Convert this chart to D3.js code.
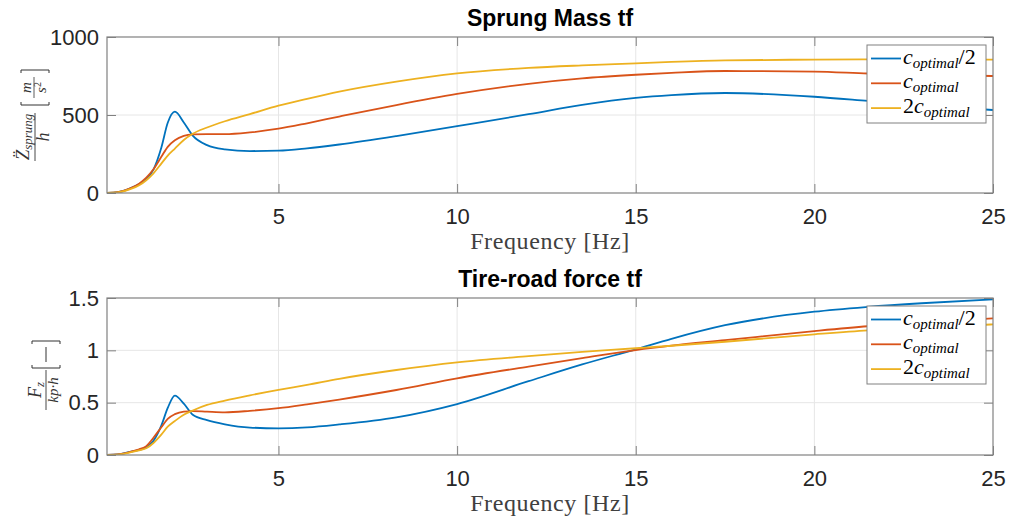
<!DOCTYPE html>
<html>
<head>
<meta charset="utf-8">
<script src="https://cdn.jsdelivr.net/npm/d3@7"></script>
<style>
  html, body { margin: 0; padding: 0; background: #fff; }
  svg { display: block; }
</style>
</head>
<body>
<svg id="chart" width="1010" height="523"></svg>
<script>
// Frequency grid shared by all curves [Hz]
const freq = [0.2, 0.5, 0.85, 1.1, 1.3, 1.5, 1.72, 1.9, 2.1, 2.35, 2.6, 3.0, 3.5, 4.2, 5.0, 5.8, 6.7, 8.3, 10, 12, 13.5, 15, 16, 17.5, 20, 21.5, 23, 25];

// Sprung mass acceleration transfer function |Z''/h|
const sprungHalf = [0, 5, 30, 58, 90, 150, 290, 450, 521, 452, 368, 307, 280, 269, 271, 286, 311, 365, 429, 505, 565, 610, 628, 641, 617, 590, 562, 532];
const sprungOpt  = [0, 5, 30, 60, 98, 152, 232, 296, 338, 366, 376, 378, 377, 388, 412, 447, 490, 564, 635, 700, 735, 758, 770, 782, 778, 766, 758, 750];
const sprungTwo  = [0, 4, 25, 50, 82, 126, 188, 240, 285, 340, 380, 420, 460, 506, 560, 604, 650, 714, 767, 802, 818, 831, 840, 850, 855, 856, 856, 855];

// Tire-road force transfer function |Fz/(kp h)|
const tireHalf = [0, 0.005, 0.03, 0.05, 0.072, 0.135, 0.28, 0.45, 0.567, 0.49, 0.385, 0.333, 0.293, 0.262, 0.255, 0.264, 0.292, 0.36, 0.487, 0.705, 0.865, 1.01, 1.11, 1.24, 1.369, 1.415, 1.45, 1.487];
const tireOpt  = [0, 0.005, 0.03, 0.055, 0.085, 0.165, 0.265, 0.345, 0.39, 0.415, 0.42, 0.414, 0.408, 0.422, 0.447, 0.484, 0.53, 0.621, 0.733, 0.845, 0.925, 1.003, 1.045, 1.097, 1.184, 1.23, 1.265, 1.306];
const tireTwo  = [0, 0.004, 0.025, 0.045, 0.064, 0.115, 0.195, 0.27, 0.325, 0.385, 0.425, 0.478, 0.52, 0.57, 0.622, 0.67, 0.728, 0.812, 0.885, 0.945, 0.985, 1.02, 1.044, 1.082, 1.153, 1.19, 1.215, 1.248];

const xTicks = [5, 10, 15, 20, 25];
const sprungTicks = [0, 500, 1000];
const tireTicks = [0, 0.5, 1, 1.5];
const tireTickLabels = ["0", "0.5", "1", "1.5"];

const colors = ["#0072BD", "#D95319", "#EDB120"];
const legendItems = [
  { base: "c", sub: "optimal", suffix: "/2", prefix: "" },
  { base: "c", sub: "optimal", suffix: "", prefix: "" },
  { base: "c", sub: "optimal", suffix: "", prefix: "2" }
];

const svg = d3.select("#chart");
const axisColor = "#808080";
const textColor = "#262626";
const gridColor = "#e6e6e6";
const mathFont = "'Liberation Serif', 'DejaVu Serif', serif";
const sansFont = "'Liberation Sans', Arial, Helvetica, sans-serif";

const left = 107, right = 993;

function drawPanel(opts) {
  const { top, bottom, yDomain, yTicks, yFormat, series, title, legendTop } = opts;
  const x = d3.scaleLinear().domain([0.2, 25]).range([left, right]);
  const y = d3.scaleLinear().domain(yDomain).range([bottom, top]);
  const g = svg.append("g");

  // grid
  g.append("g").selectAll("line").data(xTicks.filter(t => t < 25)).join("line")
    .attr("x1", d => x(d)).attr("x2", d => x(d))
    .attr("y1", top).attr("y2", bottom)
    .attr("stroke", gridColor).attr("stroke-width", 1);
  g.append("g").selectAll("line").data(yTicks.filter(t => t > yDomain[0] && t < yDomain[1])).join("line")
    .attr("x1", left).attr("x2", right)
    .attr("y1", d => y(d)).attr("y2", d => y(d))
    .attr("stroke", gridColor).attr("stroke-width", 1);

  // curves
  const clipId = "clip" + Math.round(top);
  svg.append("clipPath").attr("id", clipId).append("rect")
    .attr("x", left).attr("y", top - 2).attr("width", right - left).attr("height", bottom - top + 2);
  const line = d3.line()
    .x((d, i) => x(freq[i]))
    .y(d => y(d))
    .curve(d3.curveMonotoneX);
  g.append("g").attr("clip-path", `url(#${clipId})`)
    .selectAll("path").data(series).join("path")
    .attr("d", d => line(d))
    .attr("fill", "none")
    .attr("stroke", (d, i) => colors[i])
    .attr("stroke-width", 1.8)
    .attr("stroke-linejoin", "round");

  // axes with inward ticks
  const styleAxis = sel => {
    sel.select(".domain").remove();
    sel.selectAll(".tick line").attr("stroke", axisColor).attr("stroke-width", 1);
    sel.selectAll(".tick text").attr("fill", textColor)
      .style("font-family", sansFont).style("font-size", "22px");
  };
  g.append("g").attr("transform", `translate(0,${bottom})`)
    .call(d3.axisBottom(x).tickValues(xTicks).tickSizeInner(-9).tickSizeOuter(0).tickPadding(15).tickFormat(d3.format("d")))
    .call(styleAxis);
  g.append("g").attr("transform", `translate(0,${top})`)
    .call(d3.axisTop(x).tickValues(xTicks).tickSizeInner(-9).tickSizeOuter(0).tickFormat(""))
    .call(styleAxis);
  g.append("g").attr("transform", `translate(${left},0)`)
    .call(d3.axisLeft(y).tickValues(yTicks).tickSizeInner(-9).tickSizeOuter(0).tickPadding(8).tickFormat(yFormat))
    .call(styleAxis);
  g.append("g").attr("transform", `translate(${right},0)`)
    .call(d3.axisRight(y).tickValues(yTicks).tickSizeInner(-9).tickSizeOuter(0).tickFormat(""))
    .call(styleAxis);

  // axes box
  g.append("rect").attr("x", left).attr("y", top)
    .attr("width", right - left).attr("height", bottom - top)
    .attr("fill", "none").attr("stroke", axisColor).attr("stroke-width", 1.2);

  // title
  g.append("text").attr("x", (left + right) / 2).attr("y", top - 11)
    .attr("text-anchor", "middle")
    .style("font-family", sansFont).style("font-size", "23px").style("font-weight", "bold")
    .attr("fill", "#000").text(title);

  // x label
  g.append("text").attr("x", (left + right) / 2).attr("y", bottom + 56)
    .attr("text-anchor", "middle")
    .style("font-family", mathFont).style("font-size", "24px").style("letter-spacing", "0.6px")
    .attr("fill", "#404040").text("Frequency [Hz]");

  // legend
  const lx = 867, lw = 119, lh = 78;
  const lg = g.append("g");
  lg.append("rect").attr("x", lx).attr("y", legendTop).attr("width", lw).attr("height", lh)
    .attr("fill", "#fff").attr("stroke", axisColor).attr("stroke-width", 1);
  legendItems.forEach((it, i) => {
    const ly = legendTop + 13.5 + i * 24.8;
    lg.append("line").attr("x1", lx + 4).attr("x2", lx + 34).attr("y1", ly).attr("y2", ly)
      .attr("stroke", colors[i]).attr("stroke-width", 1.8);
    const t = lg.append("text").attr("x", lx + 36).attr("y", ly + 5)
      .style("font-family", mathFont).style("font-size", "22px").attr("fill", "#000");
    if (it.prefix) t.append("tspan").text(it.prefix);
    t.append("tspan").style("font-style", "italic").text(it.base);
    t.append("tspan").style("font-style", "italic").style("font-size", "15px").attr("dy", 4).text(it.sub);
    if (it.suffix) t.append("tspan").attr("dy", -4).text(it.suffix);
  });
  return g;
}

drawPanel({
  top: 37, bottom: 193, yDomain: [0, 1000], yTicks: sprungTicks,
  yFormat: d3.format("d"),
  series: [sprungHalf, sprungOpt, sprungTwo],
  title: "Sprung Mass tf", legendTop: 45
});

drawPanel({
  top: 298, bottom: 455, yDomain: [0, 1.5], yTicks: tireTicks,
  yFormat: (d, i) => tireTickLabels[i],
  series: [tireHalf, tireOpt, tireTwo],
  title: "Tire-road force tf", legendTop: 306
});

// ---- y-axis labels (rotated math fractions) ----
function bracket(g, x0, x1, yc, h, open) {
  // bracket drawn in local (rotated) coordinates; runs along local y
  const dir = open ? 1 : -1;
  const xb = open ? x0 : x1;
  g.append("path")
    .attr("d", `M${xb + dir * 3},${yc - h / 2} L${xb},${yc - h / 2} L${xb},${yc + h / 2} L${xb + dir * 3},${yc + h / 2}`)
    .attr("fill", "none").attr("stroke", "#333").attr("stroke-width", 1);
}

// top: Z'' sprung / h [m/s^2]
{
  const g = svg.append("g").attr("transform", "translate(34,115) rotate(-90)")
    .style("font-family", mathFont).attr("fill", "#333");
  const num = g.append("text").attr("x", -22).attr("y", -5).attr("text-anchor", "middle");
  num.append("tspan").style("font-style", "italic").style("font-size", "19px").text("Z\u0308");
  num.append("tspan").style("font-style", "italic").style("font-size", "13px").attr("dy", 3).text("sprung");
  g.append("line").attr("x1", -46).attr("x2", 2).attr("y1", 1).attr("y2", 1).attr("stroke", "#333").attr("stroke-width", 0.9);
  g.append("text").attr("x", -22).attr("y", 15).attr("text-anchor", "middle")
    .style("font-style", "italic").style("font-size", "18px").text("h");
  bracket(g, 10, 45, 1, 28, true);
  bracket(g, 10, 45, 1, 28, false);
  g.append("text").attr("x", 27.5).attr("y", -3).attr("text-anchor", "middle")
    .style("font-style", "italic").style("font-size", "15px").text("m");
  g.append("line").attr("x1", 17).attr("x2", 38).attr("y1", 0).attr("y2", 0).attr("stroke", "#333").attr("stroke-width", 0.8);
  const den = g.append("text").attr("x", 27.5).attr("y", 12).attr("text-anchor", "middle");
  den.append("tspan").style("font-style", "italic").style("font-size", "15px").text("s");
  den.append("tspan").style("font-size", "10px").attr("dy", -5).text("2");
}

// bottom: Fz / (kp·h) [−]
{
  const g = svg.append("g").attr("transform", "translate(45,390) rotate(-90)")
    .style("font-family", mathFont).attr("fill", "#333");
  const num = g.append("text").attr("x", 0).attr("y", -4).attr("text-anchor", "middle");
  num.append("tspan").style("font-style", "italic").style("font-size", "18px").text("F");
  num.append("tspan").style("font-style", "italic").style("font-size", "13px").attr("dy", 3).text("z");
  g.append("line").attr("x1", -20).attr("x2", 20).attr("y1", 1).attr("y2", 1).attr("stroke", "#333").attr("stroke-width", 0.9);
  g.append("text").attr("x", 0).attr("y", 13).attr("text-anchor", "middle")
    .style("font-style", "italic").style("font-size", "15px").text("kp\u00b7h");
  bracket(g, 22, 49, 1, 28, true);
  bracket(g, 22, 49, 1, 28, false);
  g.append("line").attr("x1", 28).attr("x2", 43).attr("y1", 1).attr("y2", 1).attr("stroke", "#333").attr("stroke-width", 1);
}
</script>
</body>
</html>
